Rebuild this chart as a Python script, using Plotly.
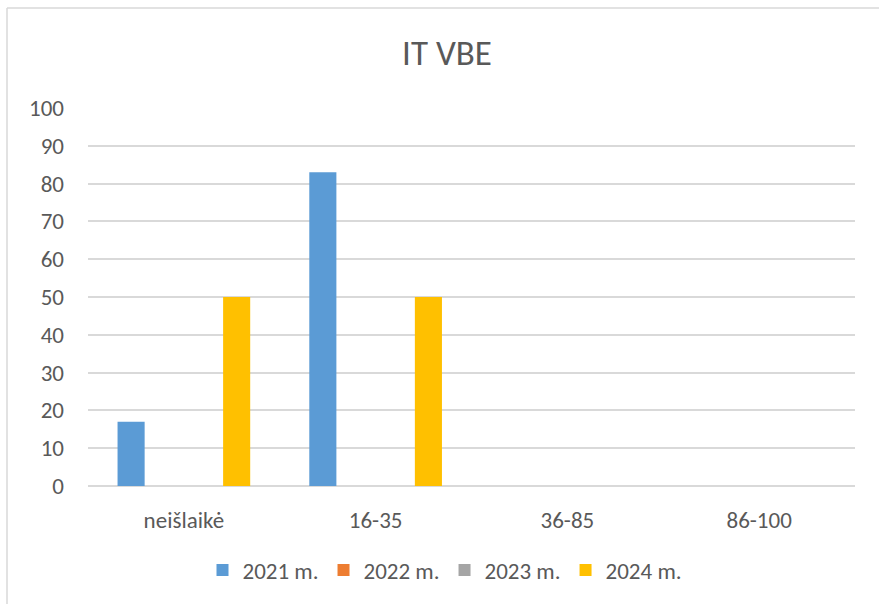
import plotly.graph_objects as go

categories = ["neišlaikė", "16-35", "36-85", "86-100"]
series_names = ["2021 m.", "2022 m.", "2023 m.", "2024 m."]
values_2021 = [17, 83, 0, 0]
values_2022 = [0, 0, 0, 0]
values_2023 = [0, 0, 0, 0]
values_2024 = [50, 50, 0, 0]
colors = ["#5B9BD5", "#ED7D31", "#A5A5A5", "#FFC000"]
y_ticks = [0, 10, 20, 30, 40, 50, 60, 70, 80, 90, 100]

FONT = "Carlito, Calibri, 'Liberation Sans Narrow', Lato, sans-serif"
TXT = "#595959"

fig = go.Figure()
for name, vals, col in zip(series_names, [values_2021, values_2022, values_2023, values_2024], colors):
    fig.add_trace(go.Bar(x=categories, y=vals, name=name, marker=dict(color=col, line=dict(width=0))))

W, H = 879, 604
L, R, T, B = 88, 24, 108, 118
pw, ph = W - L - R, H - T - B

fig.update_layout(
    width=W, height=H,
    margin=dict(l=L, r=R, t=T, b=B),
    paper_bgcolor="white", plot_bgcolor="white",
    barmode="group", bargap=0.266, bargroupgap=0.23,
    title=dict(text="IT VBE", x=447 / W, xanchor="center", y=1 - 53 / H, yanchor="middle",
               font=dict(family=FONT, size=35, color=TXT)),
    font=dict(family=FONT, color=TXT, size=23),
    showlegend=True,
    legend=dict(orientation="h", x=445 / W, xanchor="center", y=1 - 570 / H, yanchor="middle",
                xref="container", yref="container",
                font=dict(family=FONT, size=23, color=TXT), tracegroupgap=0),
    xaxis=dict(showgrid=False, showline=False, ticks="", ticklabelstandoff=18,
               tickfont=dict(family=FONT, size=23, color=TXT)),
    yaxis=dict(range=[0, 100], tickvals=y_ticks, showgrid=True, gridcolor="#D9D9D9", gridwidth=1.5,
               zeroline=True, zerolinecolor="#D9D9D9", zerolinewidth=1.5, showline=False,
               ticks="", ticklabelstandoff=23,
               tickfont=dict(family=FONT, size=23, color=TXT)),
)

# outer chart frame (top and left edges visible)
fx = (7 - L) / pw
fy = (H - B - 8) / ph
fig.add_shape(type="line", xref="paper", yref="paper", x0=fx, x1=(W + 10 - L) / pw, y0=fy, y1=fy,
              line=dict(color="#D9D9D9", width=1.5))
fig.add_shape(type="line", xref="paper", yref="paper", x0=fx, x1=fx, y0=fy, y1=-(B + 10) / ph,
              line=dict(color="#D9D9D9", width=1.5))

fig.write_html("out.html", config={"displayModeBar": False},
               post_script="document.body.style.margin='0';document.body.style.overflow='hidden';")
